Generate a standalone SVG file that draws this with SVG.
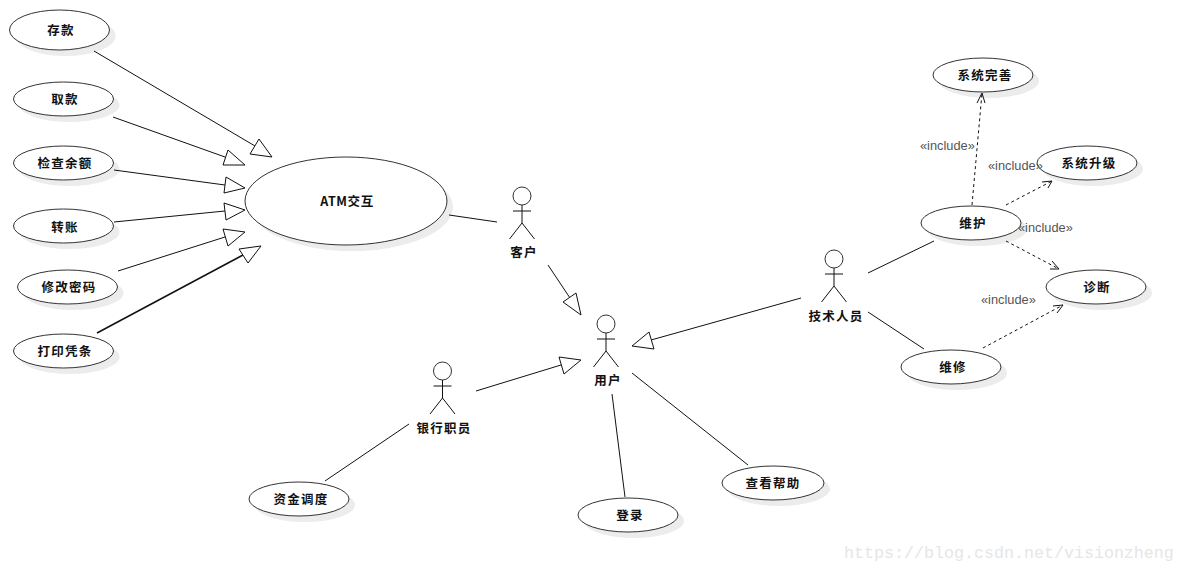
<svg xmlns="http://www.w3.org/2000/svg" width="1185" height="572" viewBox="0 0 1185 572">
<style>
.uc{fill:#fff;stroke:#333;stroke-width:1}
.sh{fill:#ececec;stroke:none}
.t{font-family:"Noto Sans CJK SC","Liberation Sans",sans-serif;font-size:12.500px;font-weight:700;fill:#111;text-anchor:middle;letter-spacing:1.300px}
.inc{font-family:"Liberation Sans",Arial,sans-serif;font-size:12.800px;fill:#555}
.l{stroke:#111;stroke-width:1;fill:none}
.d{stroke:#111;stroke-width:1;fill:none;stroke-dasharray:3 3}
.o{stroke:#111;stroke-width:1;fill:none}
.g{stroke:#111;stroke-width:1;fill:#fff}
.wm{font-family:"Liberation Mono",monospace;font-size:16.670px;fill:#e6e6e6}
</style>
<defs>
<g id="actor"><circle cx="0" cy="0" r="9" fill="#fff" stroke="#333"/><path d="M-9 15H9M0 9V27M-12.500 43L0 27L12.500 43" fill="none" stroke="#111"/></g>
</defs>
<rect width="1185" height="572" fill="#fff"/>
<g id="n-cunkuan"><ellipse class="sh" cx="65.500" cy="36" rx="50" ry="20"/><ellipse class="uc" cx="59.500" cy="30" rx="50" ry="20"/><text class="t" x="61" y="35">存款</text></g>
<g id="n-qukuan"><ellipse class="sh" cx="69.500" cy="105" rx="50" ry="17"/><ellipse class="uc" cx="63.500" cy="99" rx="50" ry="17"/><text class="t" x="65" y="104">取款</text></g>
<g id="n-yue"><ellipse class="sh" cx="69.500" cy="169" rx="50" ry="17"/><ellipse class="uc" cx="63.500" cy="163" rx="50" ry="17"/><text class="t" x="65" y="168">检查余额</text></g>
<g id="n-zhuanzhang"><ellipse class="sh" cx="69.500" cy="232" rx="50" ry="17"/><ellipse class="uc" cx="63.500" cy="226" rx="50" ry="17"/><text class="t" x="65" y="232">转账</text></g>
<g id="n-mima"><ellipse class="sh" cx="73.500" cy="293" rx="50" ry="17"/><ellipse class="uc" cx="67.500" cy="287" rx="50" ry="17"/><text class="t" x="69" y="292">修改密码</text></g>
<g id="n-pingtiao"><ellipse class="sh" cx="69.500" cy="357" rx="50" ry="17"/><ellipse class="uc" cx="63.500" cy="351" rx="50" ry="17"/><text class="t" x="65" y="356">打印凭条</text></g>
<g id="n-atm"><ellipse class="sh" cx="352" cy="207" rx="101" ry="44"/><ellipse class="uc" cx="346" cy="201" rx="101" ry="44"/><text class="t" x="347" y="206" style="letter-spacing:0.600px">ATM交互</text></g>
<g id="n-wanshan"><ellipse class="sh" cx="989" cy="81" rx="50" ry="17"/><ellipse class="uc" cx="983" cy="75" rx="50" ry="17"/><text class="t" x="985" y="80">系统完善</text></g>
<g id="n-shengji"><ellipse class="sh" cx="1093" cy="169" rx="50" ry="17"/><ellipse class="uc" cx="1087" cy="163" rx="50" ry="17"/><text class="t" x="1089" y="168">系统升级</text></g>
<g id="n-weihu"><ellipse class="sh" cx="977" cy="229" rx="50" ry="17"/><ellipse class="uc" cx="971" cy="223" rx="50" ry="17"/><text class="t" x="973" y="228">维护</text></g>
<g id="n-zhenduan"><ellipse class="sh" cx="1102" cy="293" rx="50" ry="17"/><ellipse class="uc" cx="1096" cy="287" rx="50" ry="17"/><text class="t" x="1097" y="292">诊断</text></g>
<g id="n-weixiu"><ellipse class="sh" cx="957" cy="373" rx="50" ry="17"/><ellipse class="uc" cx="951" cy="367" rx="50" ry="17"/><text class="t" x="953" y="372">维修</text></g>
<g id="n-diaodu"><ellipse class="sh" cx="305" cy="505" rx="50" ry="17"/><ellipse class="uc" cx="299" cy="499" rx="50" ry="17"/><text class="t" x="301" y="504">资金调度</text></g>
<g id="n-denglu"><ellipse class="sh" cx="634" cy="521" rx="50" ry="17"/><ellipse class="uc" cx="628" cy="515" rx="50" ry="17"/><text class="t" x="630" y="520">登录</text></g>
<g id="n-bangzhu"><ellipse class="sh" cx="779" cy="489" rx="51" ry="17"/><ellipse class="uc" cx="773" cy="483" rx="51" ry="17"/><text class="t" x="773" y="488">查看帮助</text></g>
<g id="a-kehu"><use href="#actor" x="522" y="196"/><text class="t" x="524" y="257">客户</text></g>
<g id="a-yonghu"><use href="#actor" x="606" y="324"/><text class="t" x="608" y="385">用户</text></g>
<g id="a-yinhang"><use href="#actor" x="442.500" y="371"/><text class="t" x="444" y="433">银行职员</text></g>
<g id="a-jishu"><use href="#actor" x="834" y="259"/><text class="t" x="836" y="321">技术人员</text></g>
<g id="connectors">
<path class="l" d="M94 51L255 146"/><polygon class="g" points="272,157 259,139 250,154"/>
<path class="l" d="M113 117L225 157"/><polygon class="g" points="245,165 228,150 223,165"/>
<path class="l" d="M114 170L225 185"/><polygon class="g" points="245,188 226,177 224,193"/>
<path class="l" d="M114 222L225 211"/><polygon class="g" points="245,210 224,203 226,220"/>
<path class="l" d="M118 271L225 237"/><polygon class="g" points="245,232 223,229 228,246"/>
<path class="l" d="M97 333L243 255" style="stroke-width:1.500"/><polygon class="g" points="261,246 239,249 248,263"/>
<path class="l" d="M449 215L497 222"/>
<path class="l" d="M548 265L570 298"/><polygon class="g" points="581,315 563,302 576,293"/>
<path class="l" d="M476 391L561 365"/><polygon class="g" points="581,360 559,357 564,374"/>
<path class="l" d="M801 298L651 340"/><polygon class="g" points="632,346 649,332 654,349"/>
<path class="l" d="M612 394L625 497"/>
<path class="l" d="M632 373L748 465"/>
<path class="l" d="M325 481L409 424"/>
<path class="l" d="M868 273L934 241"/>
<path class="l" d="M868 312L924 349"/>
<path class="d" d="M972 205L982 93"/><path class="o" d="M977 103L982 93L985 103"/>
<path class="d" d="M1006 205L1052 181"/><path class="o" d="M1042 182L1052 181L1048 188"/>
<path class="d" d="M1006 241L1059 269"/><path class="o" d="M1052 261L1059 269L1050 269"/>
<path class="d" d="M983 348L1063 305"/><path class="o" d="M1053 306L1063 305L1057 313"/>
</g>
<g id="labels">
<text class="inc" x="920" y="150">«include»</text>
<text class="inc" x="988" y="170">«include»</text>
<text class="inc" x="1018" y="232">«include»</text>
<text class="inc" x="981" y="304">«include»</text>
</g>
<text class="wm" x="844" y="558">https://blog.csdn.net/visionzheng</text>
</svg>
